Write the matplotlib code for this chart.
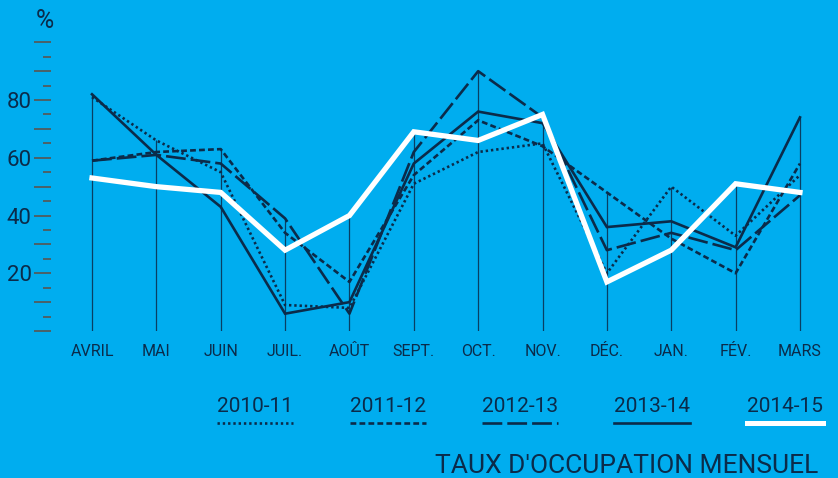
import numpy as np
import matplotlib
matplotlib.use("Agg")
import matplotlib.pyplot as plt
from matplotlib.lines import Line2D

# data
months = ["AVRIL", "MAI", "JUIN", "JUIL.", "AOÛT", "SEPT.", "OCT.", "NOV.", "DÉC.", "JAN.", "FÉV.", "MARS"]
y_2010_11 = [81, 66, 55, 9, 8, 51, 62, 65, 20, 50, 33, 54]
y_2011_12 = [59, 62, 63, 34, 17, 54, 73, 64, 48, 32, 20, 58]
y_2012_13 = [59, 61, 58, 39, 6, 62, 90, 74, 28, 34, 28, 47]
y_2013_14 = [82, 61, 43, 6, 10, 58, 76, 72, 36, 38, 29, 74]
y_2014_15 = [53, 50, 48, 28, 40, 69, 66, 75, 17, 28, 51, 48]
seasons = ["2010-11", "2011-12", "2012-13", "2013-14", "2014-15"]
y_labels = [20, 40, 60, 80]

BG = "#00adef"
DARK = "#0b2b4a"
TICK = "#5a5550"
NARROW = ["Liberation Sans Narrow", "Roboto", "DejaVu Sans"]

series = [y_2010_11, y_2011_12, y_2012_13, y_2013_14, y_2014_15]
styles = [
    dict(color=DARK, lw=1.9, ls=(0, (0.9, 1.1)), dash_capstyle="butt"),
    dict(color=DARK, lw=1.9, ls=(0, (2.2, 1.2))),
    dict(color=DARK, lw=1.9, ls=(0, (7.5, 1.9))),
    dict(color=DARK, lw=1.9, ls="-"),
    dict(color="white", lw=3.8, ls="-"),
]

W, H = 838, 478
fig = plt.figure(figsize=(W / 100, H / 100), dpi=100, facecolor=BG)

# axes placement in pixels
x0_px, step_px = 92, 64.36
left_px, right_px = 51, 822
bottom_px, top_px = 331, 42.3
ax = fig.add_axes([left_px / W, 1 - bottom_px / H,
                   (right_px - left_px) / W, (bottom_px - top_px) / H])
ax.set_facecolor(BG)
ax.set_xlim((left_px - x0_px) / step_px, (right_px - x0_px) / step_px)
ax.set_ylim(0, 100)
for s in ax.spines.values():
    s.set_visible(False)

x = np.arange(len(months))

# vertical guide lines up to the monthly maximum
tops = np.max(np.array(series), axis=0)
ax.vlines(x, 0, tops, color=DARK, lw=0.9, alpha=0.85, zorder=1)

for vals, st in zip(series, styles):
    ax.plot(x, vals, solid_joinstyle="miter", zorder=3 if st["color"] == "white" else 2, **st)

# y ticks: long every 10, short every 5
ax.set_yticks(np.arange(0, 101, 10))
ax.set_yticklabels([str(v) if v in y_labels else "" for v in range(0, 101, 10)])
ax.set_yticks(np.arange(5, 100, 10), minor=True)
ax.tick_params(axis="y", which="major", length=12, width=1.2, color=TICK,
               labelsize=16, labelcolor=DARK, pad=2)
ax.tick_params(axis="y", which="minor", length=6, width=1.2, color=TICK)
for lab in ax.get_yticklabels():
    lab.set_family(NARROW)
for t in ax.yaxis.get_major_ticks() + ax.yaxis.get_minor_ticks():
    t.tick1line.set_clip_on(False)

ax.set_xticks(x)
ax.set_xticklabels(months)
ax.tick_params(axis="x", length=0, labelsize=11.5, labelcolor=DARK, pad=9)
for lab in ax.get_xticklabels():
    lab.set_family(["Roboto", "DejaVu Sans"])

fig.text(45 / W, 1 - 21 / H, "%", ha="center", va="center", fontsize=18,
         color=DARK, family=NARROW)

# legend drawn by hand
centers = [255, 388, 520, 652, 785]
for cx, name, st in zip(centers, seasons, styles):
    fig.text(cx / W, 1 - 407 / H, name, ha="center", va="center", fontsize=15,
             color=DARK, family=NARROW)
    st = dict(st)
    if st["color"] == "white":
        st["lw"] = 3.6
    fig.add_artist(Line2D([(cx - 38) / W, (cx + 38) / W], [1 - 423 / H, 1 - 423 / H],
                          transform=fig.transFigure, **st))

fig.text(818 / W, 1 - 466 / H, "TAUX D'OCCUPATION MENSUEL", ha="right", va="center",
         fontsize=19, color=DARK, family=NARROW)

fig.savefig("out.png", dpi=100, facecolor=BG)
